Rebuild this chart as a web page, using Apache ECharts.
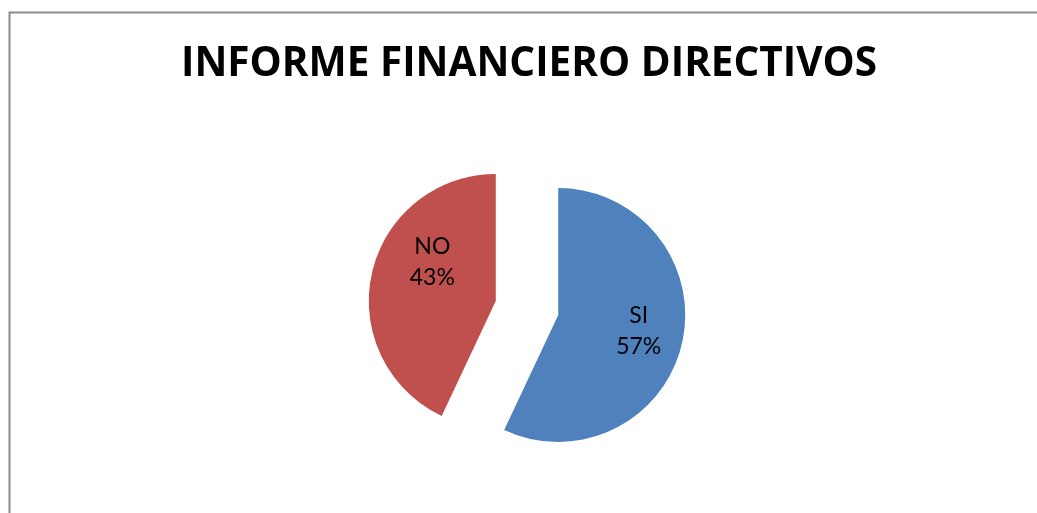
<!DOCTYPE html>
<html>
<head>
<meta charset="utf-8">
<script src="https://cdn.jsdelivr.net/npm/echarts@6/dist/echarts.min.js"></script>
<style>
  html, body { margin: 0; padding: 0; background: #fff; }
  #chart { width: 1037px; height: 513px; }
</style>
</head>
<body>
<div id="chart"></div>
<script>
const categories = ['SI', 'NO']
const values = [57, 43]
const colors = ['#4F81BD', '#C0504D']
// label nudges per slice (dx, dy)
const labelShifts = [[-2, -2], [19, -21]]

const chart = echarts.init(document.getElementById('chart'))

const sliceData = categories.map((name, i) => ({
  name,
  value: values[i],
  selected: true,
  itemStyle: { color: colors[i] }
}))

const labelData = categories.map((name, i) => ({
  name,
  value: values[i],
  selected: true
}))

const option = {
  animation: false,
  title: {
    text: 'INFORME FINANCIERO DIRECTIVOS',
    left: 176,
    top: 39,
    textStyle: {
      fontFamily: 'Open Sans',
      fontWeight: 'bold',
      fontSize: 40.5,
      color: '#000'
    }
  },
  graphic: [
    {
      type: 'rect',
      shape: { x: 9.5, y: 12.5, width: 1100, height: 600 },
      style: { fill: 'none', stroke: '#8c8c8c', lineWidth: 2 },
      silent: true
    }
  ],
  series: [
    {
      // the slices
      type: 'pie',
      center: [527, 308],
      radius: 127,
      startAngle: 90,
      clockwise: true,
      selectedMode: 'multiple',
      selectedOffset: 32,
      avoidLabelOverlap: false,
      label: { show: false },
      labelLine: { show: false },
      emphasis: { disabled: true },
      data: sliceData
    },
    {
      // transparent copy, only carries the labels a bit further out
      type: 'pie',
      center: [527, 308],
      radius: 163,
      startAngle: 90,
      clockwise: true,
      selectedMode: 'multiple',
      selectedOffset: 32,
      avoidLabelOverlap: false,
      silent: true,
      itemStyle: { color: 'rgba(0,0,0,0)' },
      label: {
        show: true,
        position: 'inside',
        formatter: '{b}\n{d}%',
        fontFamily: 'Lato',
        fontSize: 23,
        lineHeight: 31,
        color: '#000'
      },
      labelLayout: (params) => ({
        dx: labelShifts[params.dataIndex][0],
        dy: labelShifts[params.dataIndex][1]
      }),
      labelLine: { show: false },
      emphasis: { disabled: true },
      data: labelData
    }
  ]
}

chart.setOption(option)
</script>
</body>
</html>
